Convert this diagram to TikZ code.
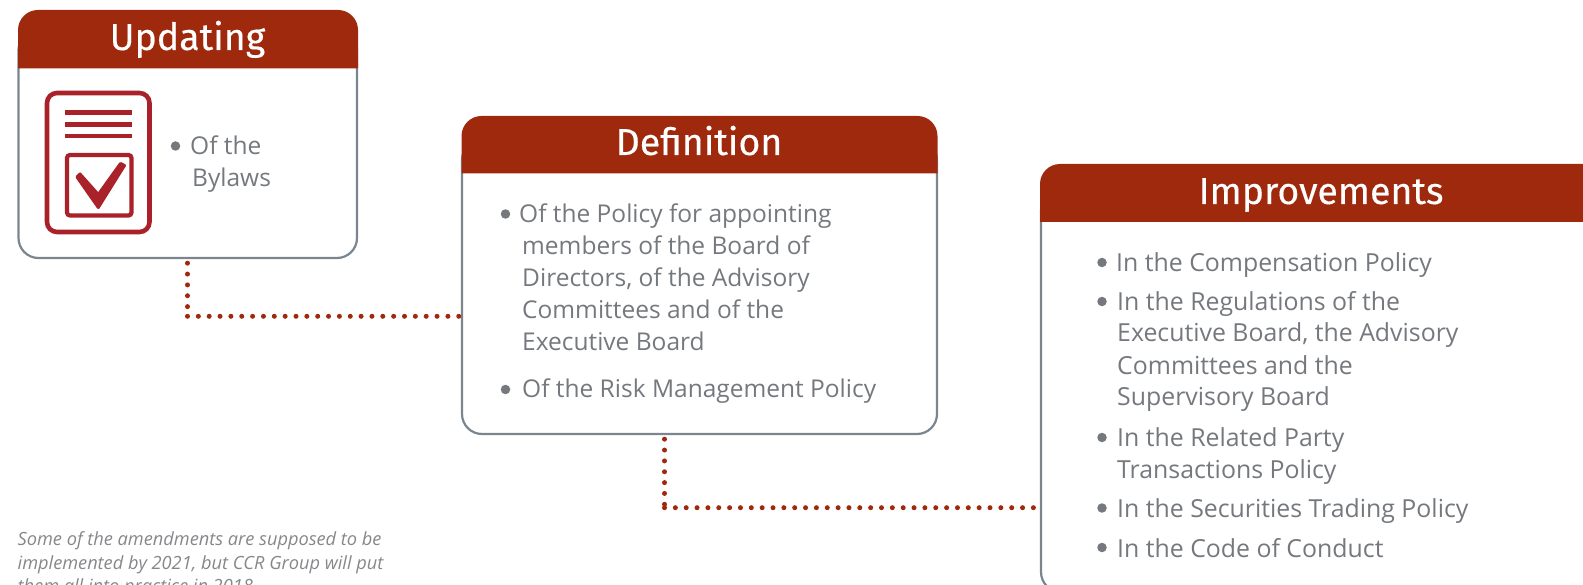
\documentclass[tikz,border=0pt]{standalone}
\usepackage{fontspec}
\setmainfont{Open Sans}
\newfontfamily\headfont{Fira Sans}
\definecolor{headred}{HTML}{9E290D}
\definecolor{iconred}{HTML}{A9222A}
\definecolor{edgegray}{HTML}{7A858E}
\definecolor{txtgray}{HTML}{75797E}
\definecolor{notegray}{HTML}{85878A}
\tikzset{
  x=1pt,y=-1pt,
  bodybox/.style={draw=edgegray,line width=2.2pt,fill=white,rounded corners=20pt},
  headband/.style={fill=headred,draw=none},
  headtxt/.style={text=white,font=\headfont\fontsize{37.5}{37.5}\selectfont\addfontfeature{FakeBold=0.3},anchor=base,inner sep=0pt},
  txt/.style={text=txtgray,font=\fontsize{24.5}{24.5}\selectfont,anchor=base west,inner sep=0pt},
  txtb/.style={txt,font=\fontsize{24.85}{24.85}\selectfont},
  note/.style={text=notegray,font=\itshape\fontsize{18.2}{18.2}\selectfont,anchor=base west,inner sep=0pt},
  bul/.style={circle,fill=txtgray,draw=none,minimum size=9.5pt,inner sep=0pt},
  dots/.style={draw=headred,line width=5pt,line cap=round,dash pattern=on 0pt off 10.85pt},
  iconline/.style={draw=iconred,line width=4.5pt},
}
\begin{document}
\begin{tikzpicture}
\useasboundingbox (0,0) rectangle (1583,585);
\clip (0,0) rectangle (1583,585);
% boxes
\path[bodybox] (18.5,30) rectangle (357,258);
\node[minimum width=338pt,minimum height=228pt,inner sep=0pt,draw=none] (box1) at (187.75,144) {};
\path[bodybox] (462,140) rectangle (937,434);
\node[minimum width=475pt,minimum height=294pt,inner sep=0pt,draw=none] (box2) at (699.5,287) {};
\path[bodybox] (1041,190) rectangle (1640,592);
\node[minimum width=599pt,minimum height=402pt,inner sep=0pt,draw=none] (box3) at (1340.5,391) {};
% headers
\path[headband] (18,68.5) [rounded corners=20pt] -- (18,10) -- (358,10) [sharp corners] -- (358,68.5) -- cycle;
\path[headband] (461.5,173.5) [rounded corners=20pt] -- (461.5,116) -- (937.5,116) [sharp corners] -- (937.5,173.5) -- cycle;
\path[headband] (1040,222) [rounded corners=20pt] -- (1040,164) -- (1640,164) [sharp corners] -- (1640,222) -- cycle;
\node[headtxt] (h1) at (187.5,50) {Updating};
\node[headtxt] (h2) at (699,155) {Definition};
\node[headtxt] (h3) at (1321,204) {Improvements};
% connectors
\coordinate (c1) at (187.5,316.3);
\coordinate (c2) at (664.5,507.7);
\draw[dots] (c1 |- box1.south) ++(0,5) -- (c1);
\draw[dots] (c1) -- (c1 -| box2.west);
\draw[dots] (c2 |- box2.south) ++(0,5) -- (c2);
\draw[dots] (c2) -- (c2 -| box3.west);
% icon
\draw[iconred,line width=4.6pt,rounded corners=10pt] (47,93) rectangle (149.5,232);
\draw[iconline] (65,112.5) -- (132,112.5);
\draw[iconline] (65,124.5) -- (132,124.5);
\draw[iconline] (65,136) -- (132,136);
\draw[iconred,line width=4.2pt,rounded corners=3pt] (67,155) rectangle (131.5,215.5);
\fill[iconred,draw=iconred,line width=3pt,line join=round] (77,177) -- (80,174) -- (98.3,194.5) -- (120.5,163.5) -- (124.5,165.5) -- (98.3,207.5) -- cycle;
% box 1 text
\node[bul] (b11) at (175.5,146) {};
\node[txt] (t11) at (190,155) {Of the};
\node[txt] (t12) at (192,187) {Bylaws};
% box 2 text
\node[bul] (b21) at (505.5,214) {};
\node[txt] (t21) at (519,222.5) {Of the Policy for appointing};
\node[txt] (t22) at (522,255) {members of the Board of};
\node[txt] (t23) at (522,287) {Directors, of the Advisory};
\node[txt] (t24) at (522,319) {Committees and of the};
\node[txt] (t25) at (522,351) {Executive Board};
\node[bul] (b22) at (505.5,389.5) {};
\node[txt] (t26) at (522,398) {Of the Risk Management Policy};
% box 3 text
\node[bul] (b31) at (1102,262.5) {};
\node[txtb] (t31) at (1116,271.5) {In the Compensation Policy};
\node[bul] (b32) at (1102,301.5) {};
\node[txtb] (t32) at (1117,310.5) {In the Regulations of the};
\node[txtb] (t33) at (1117,342) {Executive Board, the Advisory};
\node[txtb] (t34) at (1117,374) {Committees and the};
\node[txtb] (t35) at (1117,406) {Supervisory Board};
\node[bul] (b33) at (1102,437.5) {};
\node[txtb] (t36) at (1117,446) {In the Related Party};
\node[txtb] (t37) at (1117,478) {Transactions Policy};
\node[bul] (b34) at (1102,508) {};
\node[txtb] (t38) at (1117,517) {In the Securities Trading Policy};
\node[bul] (b35) at (1102,547.5) {};
\node[txtb] (t39) at (1117,557) {In the Code of Conduct};
% note
\node[note] (n1) at (17.5,545.5) {Some of the amendments are supposed to be};
\node[note] (n2) at (17.5,569) {implemented by 2021, but CCR Group will put};
\node[note] (n3) at (17.5,592) {them all into practice in 2018.};
\end{tikzpicture}
\end{document}
